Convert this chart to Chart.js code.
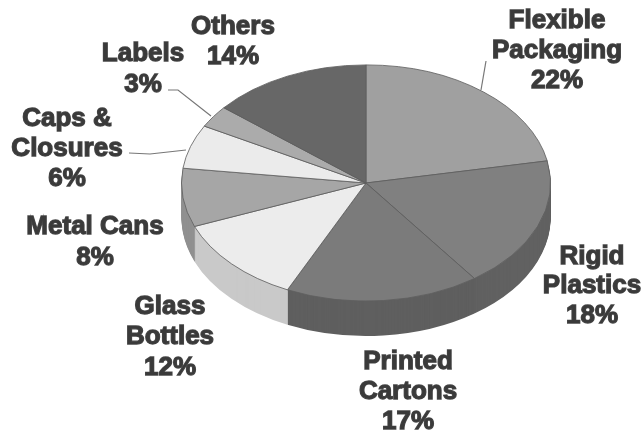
<!DOCTYPE html>
<html>
<head>
<meta charset="utf-8">
<title>Packaging share</title>
<script src="https://cdn.jsdelivr.net/npm/chart.js@4/dist/chart.umd.min.js"></script>
<style>
html, body { margin: 0; padding: 0; background: #fff; }
canvas { display: block; filter: blur(0.6px); }
</style>
</head>
<body>
<canvas id="pieChart" width="642" height="434"></canvas>
<script>
// Chart data
const categories = ['Flexible Packaging', 'Rigid Plastics', 'Printed Cartons', 'Glass Bottles', 'Metal Cans', 'Caps & Closures', 'Labels', 'Others'];
const shares = [22, 18, 17, 12, 8, 6, 3, 14];

// Greys
const topColors = ['#a0a0a0', '#808080', '#7b7b7b', '#ececec', '#a6a6a6', '#ebebeb', '#ababab', '#676767'];
const rimColors = ['#808080', '#616161', '#5f5f5f', '#c9c9c9', '#909090', '#c9c9c9', '#8f8f8f', '#4f4f4f'];

// Label layout: centre x and the y of each text line
const labelLayout = [
    { x: 557, y: [21, 51, 81], lines: ['Flexible', 'Packaging'] },
    { x: 592, y: [257, 286, 316], lines: ['Rigid', 'Plastics'] },
    { x: 408, y: [362, 392, 422], lines: ['Printed', 'Cartons'] },
    { x: 170, y: [307, 337, 368], lines: ['Glass', 'Bottles'] },
    { x: 95, y: [227, 258], lines: ['Metal Cans'] },
    { x: 67, y: [119, 149, 179], lines: ['Caps &', 'Closures'] },
    { x: 143, y: [54, 85], lines: ['Labels'] },
    { x: 233, y: [27, 57], lines: ['Others'] }
];
const leaderLines = [
    [[486, 61], [481, 90]],
    [[168, 90], [178, 90], [211, 116]],
    [[129, 153], [150, 154], [186, 150]]
];

const pieDepth = 35;
const tilt = 0.64;
const centerY = 183;

const tiltPlugin = {
    id: 'tilt',
    beforeDatasetsDraw(chart) {
        const ctx = chart.ctx;
        const arcs = chart.getDatasetMeta(0).data;
        const cy = arcs[0].y;
        const applyTilt = (dy) => {
            ctx.translate(0, centerY + dy);
            ctx.scale(1, tilt);
            ctx.translate(0, -cy);
        };
        // side wall: the same arcs stacked downwards in darker greys
        for (let dy = pieDepth; dy >= 1; dy--) {
            ctx.save();
            applyTilt(dy);
            arcs.forEach((arc, i) => {
                const saved = arc.options;
                arc.options = Object.assign({}, saved, { backgroundColor: rimColors[i], borderWidth: 0 });
                arc.draw(ctx);
                arc.options = saved;
            });
            ctx.restore();
        }
        ctx.save();
        applyTilt(0);
    },
    afterDatasetsDraw(chart) {
        chart.ctx.restore();
    }
};

const labelPlugin = {
    id: 'pieLabels',
    afterDraw(chart) {
        const ctx = chart.ctx;
        ctx.save();
        ctx.strokeStyle = '#777';
        ctx.lineWidth = 1.2;
        leaderLines.forEach(pts => {
            ctx.beginPath();
            pts.forEach((p, i) => i ? ctx.lineTo(p[0], p[1]) : ctx.moveTo(p[0], p[1]));
            ctx.stroke();
        });
        ctx.font = 'bold 26px "Liberation Sans", Arial, sans-serif';
        ctx.textAlign = 'center';
        ctx.textBaseline = 'middle';
        ctx.fillStyle = '#3a3a3a';
        ctx.strokeStyle = '#4a4a4a';
        ctx.lineWidth = 1.3;
        labelLayout.forEach((item, i) => {
            const texts = item.lines.concat(shares[i] + '%');
            texts.forEach((t, j) => {
                ctx.strokeText(t, item.x, item.y[j]);
                ctx.fillText(t, item.x, item.y[j]);
            });
        });
        ctx.restore();
    }
};

const pieChart = new Chart(document.getElementById('pieChart').getContext('2d'), {
    type: 'pie',
    data: {
        labels: categories,
        datasets: [{
            data: shares,
            backgroundColor: topColors,
            borderColor: '#5e5e5e',
            borderWidth: 1,
            clip: false
        }]
    },
    options: {
        responsive: false,
        animation: false,
        layout: { padding: { left: 181, right: 91, top: 32, bottom: 32 } },
        plugins: { legend: { display: false }, tooltip: { enabled: false } }
    },
    plugins: [tiltPlugin, labelPlugin]
});
</script>
</body>
</html>
